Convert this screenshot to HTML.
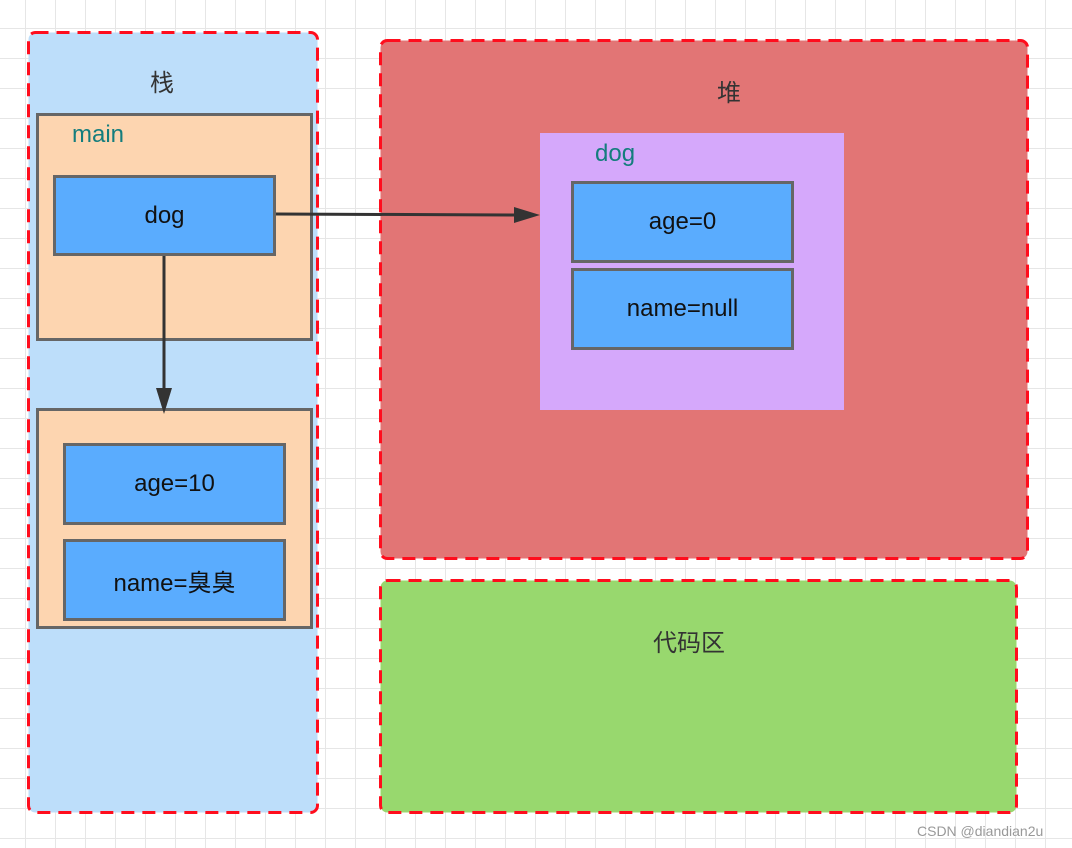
<!DOCTYPE html>
<html><head><meta charset="utf-8"><style>
body{margin:0;width:1072px;height:848px;overflow:hidden;background:#fff;
background-image:linear-gradient(#e6e6e6 1px,transparent 1px),linear-gradient(90deg,#e6e6e6 1px,transparent 1px);
background-size:30px 30px;background-position:25px 28px;font-family:"Liberation Sans","Noto Sans CJK SC",sans-serif;position:relative}
.a{position:absolute;box-sizing:border-box}
.b{background:#5aacfe;border:3px solid #666;display:flex;align-items:center;justify-content:center;font-size:24px;color:#111}
.t{position:absolute;font-size:24px;color:#333}
</style></head><body>
<svg class="a" style="left:0;top:0" width="1072" height="848">
<g stroke="#ff0d1d" stroke-width="3" stroke-dasharray="13 8">
<rect x="28.5" y="32.5" width="289" height="780" rx="7" fill="#bddefa"/>
<rect x="380.5" y="40.5" width="647" height="518" rx="7" fill="#e27575"/>
<rect x="380.5" y="580.5" width="636" height="232" rx="7" fill="#98d86e"/>
</g>
</svg>
<div class="t" style="left:150px;top:63px">栈</div>
<div class="a" style="left:36px;top:113px;width:277px;height:228px;background:#fdd5b0;border:3px solid #666"></div>
<div class="t" style="left:72px;top:121px;color:#147d7d">main</div>
<div class="a b" style="left:53px;top:175px;width:223px;height:81px">dog</div>
<div class="a" style="left:36px;top:408px;width:277px;height:221px;background:#fdd5b0;border:3px solid #666"></div>
<div class="a b" style="left:63px;top:443px;width:223px;height:82px">age=10</div>
<div class="a b" style="left:63px;top:539px;width:223px;height:82px">name=臭臭</div>

<div class="t" style="left:717px;top:73px">堆</div>
<div class="a" style="left:540px;top:133px;width:304px;height:277px;background:#d5a8fb"></div>
<div class="t" style="left:595px;top:140px;color:#147d7d">dog</div>
<div class="a b" style="left:571px;top:181px;width:223px;height:82px">age=0</div>
<div class="a b" style="left:571px;top:268px;width:223px;height:82px">name=null</div>

<div class="t" style="left:653px;top:623px">代码区</div>

<svg class="a" style="left:0;top:0" width="1072" height="848">
<line x1="276" y1="214" x2="518" y2="215" stroke="#333" stroke-width="3"/>
<polygon points="540,215 514,207 514,223" fill="#333"/>
<line x1="164" y1="256" x2="164" y2="392" stroke="#333" stroke-width="3"/>
<polygon points="164,414 156,388 172,388" fill="#333"/>
</svg>
<div class="t" style="left:917px;top:823px;font-size:14px;color:#999">CSDN @diandian2u</div>
</body></html>
